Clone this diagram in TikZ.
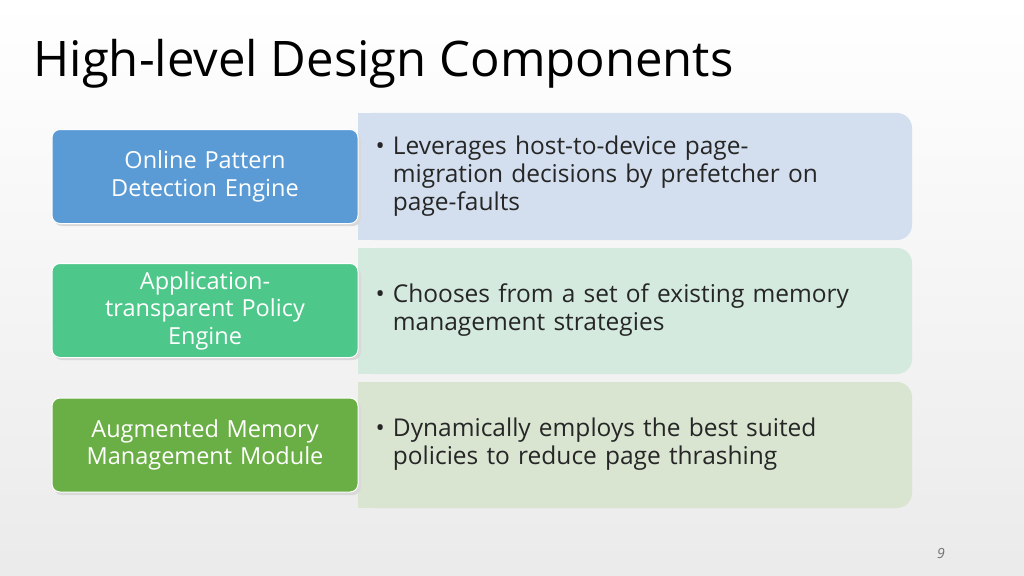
\documentclass[tikz,border=0pt]{standalone}
\usepackage{fontspec}
\setmainfont{Open Sans}
\begin{document}
\begin{tikzpicture}[x=1pt,y=-1pt,
 dark/.style={draw=white,line width=1pt,rounded corners=8pt,minimum width=306pt,minimum height=94pt,text=white,align=center,font=\fontsize{23.5}{27.5}\selectfont,text width=280pt},
 btxt/.style={anchor=north west,align=left,text width=520pt,font=\fontsize{24.5}{28}\selectfont,text=black!85}]
\useasboundingbox (0,0) rectangle (1024,575);
\shade[top color=white,bottom color=black!8] (0,0) rectangle (1024,575);
\node[anchor=west,font=\fontsize{49}{52}\selectfont,text=black] (title) at (30,64) {High-level Design Components};
\definecolor{l1}{RGB}{211,223,238}
\definecolor{l2}{RGB}{212,234,223}
\definecolor{l3}{RGB}{217,229,209}
\fill[l1,rounded corners=15pt] (358,113) rectangle (912,240);
\fill[l1] (358,113) rectangle (500,240);
\fill[l2,rounded corners=15pt] (358,248) rectangle (912,374);
\fill[l2] (358,248) rectangle (500,374);
\fill[l3,rounded corners=15pt] (358,382) rectangle (912,508);
\fill[l3] (358,382) rectangle (500,508);
\node[btxt] (t1) at (372,132) {\textbullet\ Leverages host-to-device page-\\\phantom{\textbullet\ }migration decisions by prefetcher on\\\phantom{\textbullet\ }page-faults};
\node[btxt] (t2) at (372,280) {\textbullet\ Chooses from a set of existing memory\\\phantom{\textbullet\ }management strategies};
\node[btxt] (t3) at (372,414) {\textbullet\ Dynamically employs the best suited\\\phantom{\textbullet\ }policies to reduce page thrashing};
% dark boxes
\fill[black!15,rounded corners=8pt] (54,133) rectangle (361,226);
\fill[black!15,rounded corners=8pt] (54,267) rectangle (361,360);
\fill[black!15,rounded corners=8pt] (54,401) rectangle (361,495);
\node[dark,fill={rgb,255:red,91;green,155;blue,213}] (d1) at (205,176.5) {Online Pattern\\Detection Engine};
\node[dark,fill={rgb,255:red,77;green,199;blue,138}] (d2) at (205,310.5) {Application-\\transparent Policy\\Engine};
\node[dark,fill={rgb,255:red,106;green,175;blue,69}] (d3) at (205,445) {Augmented Memory\\Management Module};
\node[font=\itshape\fontsize{14}{14}\selectfont,text=black!55] (pg) at (941,553) {9};
\end{tikzpicture}
\end{document}
